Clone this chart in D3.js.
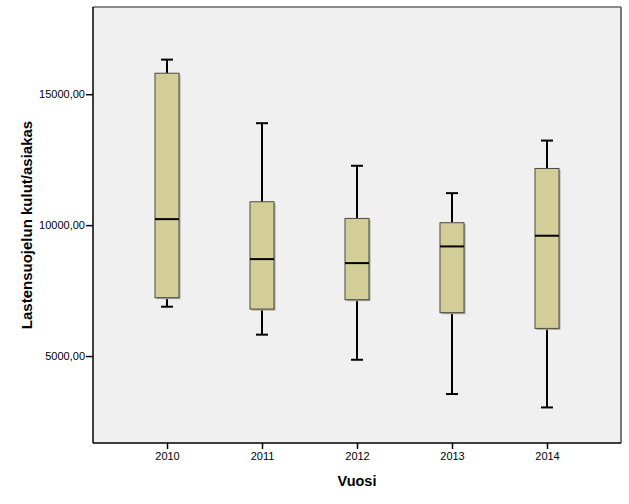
<!DOCTYPE html>
<html><head><meta charset="utf-8">
<script src="https://cdn.jsdelivr.net/npm/d3@7"></script>
<style>body{margin:0;background:#fff}svg{display:block}</style>
</head><body>
<script>
const years = ["2010","2011","2012","2013","2014"];
const whiskerLow  = [6885, 5817, 4859, 3550, 3038];
const q1          = [7229, 6794, 7153, 6656, 6057];
const median      = [10229, 8702, 8550, 9187, 9595];
const q3          = [15801, 10893, 10256, 10092, 12164];
const whiskerHigh = [16321, 13893, 12267, 11221, 13229];
const yTicks = [5000, 10000, 15000];
const yTitle = "Lastensuojelun kulut/asiakas";
const xTitle = "Vuosi";

const W = 629, H = 504;
const m = {left: 93, right: 8, top: 7, bottom: 61};
const svg = d3.select("body").append("svg").attr("width", W).attr("height", H);
const pw = W - m.left - m.right, ph = H - m.top - m.bottom;
const g = svg.append("g").attr("transform", `translate(${m.left},${m.top})`);

const x = d3.scalePoint().domain(years).range([0, pw]).padding(0.779);
const y = d3.scaleLinear().domain([1680, 18330]).range([ph, 0]);

g.append("rect").attr("width", pw).attr("height", ph).attr("fill", "#f0f0f0");

const data = years.map((yr, i) => ({yr, lo: whiskerLow[i], q1: q1[i], med: median[i], q3: q3[i], hi: whiskerHigh[i]}));
const bw = 24, cw = 12;
const bx = g.selectAll(".b").data(data).join("g").attr("transform", d => `translate(${x(d.yr)},0)`);
bx.append("line").attr("y1", d => y(d.hi)).attr("y2", d => y(d.q3)).attr("stroke", "#000").attr("stroke-width", 2);
bx.append("line").attr("y1", d => y(d.q1)).attr("y2", d => y(d.lo)).attr("stroke", "#000").attr("stroke-width", 2);
bx.append("line").attr("x1", -cw/2).attr("x2", cw/2).attr("y1", d => y(d.hi)).attr("y2", d => y(d.hi)).attr("stroke", "#000").attr("stroke-width", 2);
bx.append("line").attr("x1", -cw/2).attr("x2", cw/2).attr("y1", d => y(d.lo)).attr("y2", d => y(d.lo)).attr("stroke", "#000").attr("stroke-width", 2);
bx.append("rect").attr("x", -bw/2 + 1.5).attr("y", d => y(d.q3) + 1.5).attr("width", bw).attr("height", d => y(d.q1) - y(d.q3))
  .attr("fill", "#a8a8a0");
bx.append("rect").attr("x", -bw/2).attr("y", d => y(d.q3)).attr("width", bw).attr("height", d => y(d.q1) - y(d.q3))
  .attr("fill", "#d3ce97").attr("stroke", "#4a4a40").attr("stroke-width", 1);
bx.append("line").attr("x1", -bw/2).attr("x2", bw/2).attr("y1", d => y(d.med)).attr("y2", d => y(d.med)).attr("stroke", "#000").attr("stroke-width", 2);

g.append("line").attr("x1", 0).attr("x2", pw).attr("y1", 0).attr("y2", 0).attr("stroke", "#888").attr("stroke-width", 2);
g.append("line").attr("x1", pw).attr("x2", pw).attr("y1", 0).attr("y2", ph).attr("stroke", "#777").attr("stroke-width", 2);
g.append("line").attr("x1", 0).attr("x2", 0).attr("y1", 0).attr("y2", ph).attr("stroke", "#000").attr("stroke-width", 1.5);
g.append("line").attr("x1", 0).attr("x2", pw).attr("y1", ph).attr("y2", ph).attr("stroke", "#000").attr("stroke-width", 1.5);

const fmt = v => d3.format(".2f")(v).replace(".", ",");
const ya = g.append("g").call(d3.axisLeft(y).tickValues(yTicks).tickFormat(fmt).tickSize(7).tickPadding(1));
ya.select(".domain").remove();
ya.selectAll("line").attr("stroke", "#000").attr("stroke-width", 1.5);
ya.selectAll("text").attr("font-family", "Liberation Sans, Arial, sans-serif").attr("font-size", 11).attr("fill", "#000");

const xa = g.append("g").attr("transform", `translate(0,${ph})`).call(d3.axisBottom(x).tickSize(6).tickPadding(3));
xa.select(".domain").remove();
xa.selectAll("line").attr("stroke", "#000").attr("stroke-width", 1.5);
xa.selectAll("text").attr("font-family", "Liberation Sans, Arial, sans-serif").attr("font-size", 11).attr("fill", "#000");

svg.append("text").attr("x", m.left + pw/2).attr("y", 486).attr("text-anchor", "middle")
  .attr("font-family", "Liberation Sans, Arial, sans-serif").attr("font-weight", "bold").attr("font-size", 14.5).text(xTitle);
svg.append("text").attr("transform", `translate(32,${m.top + ph/2}) rotate(-90)`).attr("text-anchor", "middle")
  .attr("font-family", "Liberation Sans, Arial, sans-serif").attr("font-weight", "bold").attr("font-size", 15).text(yTitle);
</script>
</body></html>
